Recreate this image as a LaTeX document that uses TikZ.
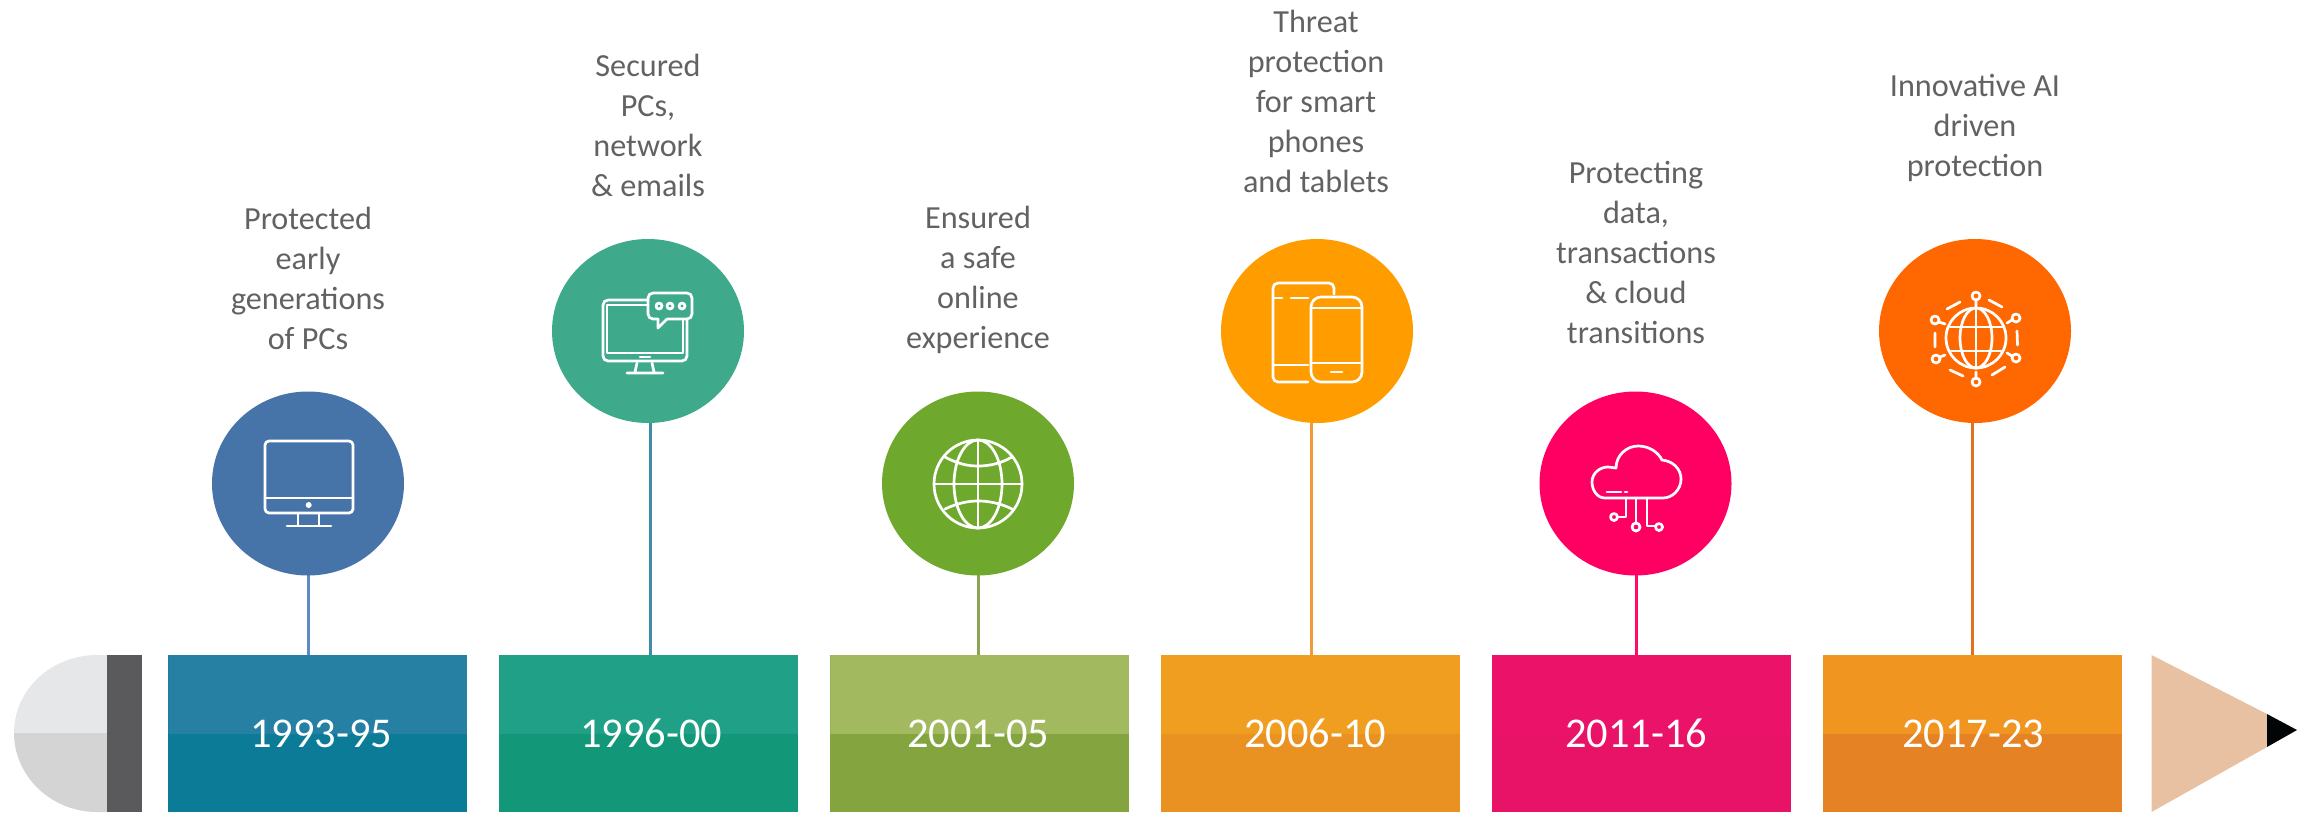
\documentclass[tikz,border=0pt]{standalone}
\usepackage{fontspec}
\setmainfont{Carlito}
\usetikzlibrary{shapes.geometric,backgrounds}
\definecolor{txt}{HTML}{626262}
\definecolor{eraserA}{HTML}{E6E7E9}
\definecolor{eraserB}{HTML}{D4D4D4}
\definecolor{band}{HTML}{5A5A5C}
\definecolor{wood}{HTML}{E7C1A1}
\definecolor{lead}{HTML}{020505}
\definecolor{discA}{HTML}{4674A8}
\definecolor{discB}{HTML}{3FA98C}
\definecolor{discC}{HTML}{6EA92E}
\definecolor{discD}{HTML}{FF9C00}
\definecolor{discE}{HTML}{FF0062}
\definecolor{discF}{HTML}{FF6800}
\definecolor{stemA}{HTML}{5B8BC4}
\definecolor{stemB}{HTML}{3F8CA6}
\definecolor{stemC}{HTML}{8CA555}
\definecolor{stemD}{HTML}{F09A3A}
\definecolor{stemE}{HTML}{FF0A6A}
\definecolor{stemF}{HTML}{DD7425}
\definecolor{topA}{HTML}{2580A4}
\definecolor{botA}{HTML}{0B7B98}
\definecolor{topB}{HTML}{20A086}
\definecolor{botB}{HTML}{129878}
\definecolor{topC}{HTML}{A2B95F}
\definecolor{botC}{HTML}{83A43F}
\definecolor{topD}{HTML}{EF9E20}
\definecolor{botD}{HTML}{E99222}
\definecolor{topE}{HTML}{EB1269}
\definecolor{botE}{HTML}{E81267}
\definecolor{topF}{HTML}{F09620}
\definecolor{botF}{HTML}{E58224}
\tikzset{
  disc/.style={ellipse,fill=#1,minimum width=96pt,minimum height=92pt,inner sep=0pt},
  yearbox/.style n args={2}{rectangle,fill=#2,minimum width=149.5pt,minimum height=78.5pt,inner sep=0pt,anchor=north west,
     path picture={\fill[#1] (path picture bounding box.north west) rectangle (path picture bounding box.east);}},
  yeartext/.style={anchor=base,text=white,inner sep=0pt,font=\fontsize{21.2}{24}\selectfont},
  caption/.style={anchor=base,align=center,text=txt,inner sep=0pt,font=\fontsize{16.1}{20}\selectfont},
  stem/.style={draw=#1,line width=1.5pt},
  icon/.style={draw=white,line width=1.35pt,line cap=round,line join=round},
}
\begin{document}
\begin{tikzpicture}[x=0.5pt,y=-0.5pt]
\useasboundingbox (0,0) rectangle (2306,814);
% pencil end
\fill[eraserA] (107,655) -- (97,655) .. controls (51,655) and (14,690) .. (14,733) -- (107,733) -- cycle;
\fill[eraserB] (14,733) .. controls (14,776) and (51,812) .. (97,812) -- (107,812) -- (107,733) -- cycle;
\fill[band] (107,655) rectangle (142,812);
% pencil tip
\fill[wood] (2151.5,655) -- (2267,714) -- (2267,747) -- (2151.5,812) -- cycle;
\fill[lead] (2267,714) -- (2297,730) -- (2267,747) -- cycle;
% year boxes
\node[yearbox={topA}{botA}] (r1) at (168,655) {};
\node[yearbox={topB}{botB}] (r2) at (499,655) {};
\node[yearbox={topC}{botC}] (r3) at (830,655) {};
\node[yearbox={topD}{botD}] (r4) at (1160.5,655) {};
\node[yearbox={topE}{botE}] (r5) at (1491.5,655) {};
\node[yearbox={topF}{botF}] (r6) at (1822.5,655) {};
\node[yeartext] (y1) at (321,747) {1993-95};
\node[yeartext] (y2) at (651,747) {1996-00};
\node[yeartext] (y3) at (978,747) {2001-05};
\node[yeartext] (y4) at (1315,747) {2006-10};
\node[yeartext] (y5) at (1636,747) {2011-16};
\node[yeartext] (y6) at (1973,747) {2017-23};
% discs
\node[disc=discA] (c1) at (308,483.5) {};
\node[disc=discB] (c2) at (648,331) {};
\node[disc=discC] (c3) at (978,483.5) {};
\node[disc=discD] (c4) at (1317,331) {};
\node[disc=discE] (c5) at (1635.5,483.5) {};
\node[disc=discF] (c6) at (1975,331) {};
% connectors
\coordinate (l1) at (308,655);
\coordinate (l2) at (650,655);
\coordinate (l3) at (978,655);
\coordinate (l4) at (1311,655);
\coordinate (l5) at (1636,655);
\coordinate (l6) at (1972,655);
\begin{scope}[on background layer]
\draw[stem=stemA] (c1.center -| l1) -- (l1);
\draw[stem=stemB] (c2.center -| l2) -- (l2);
\draw[stem=stemC] (c3.center -| l3) -- (l3);
\draw[stem=stemD] (c4.center -| l4) -- (l4);
\draw[stem=stemE] (c5.center -| l5) -- (l5);
\draw[stem=stemF] (c6.center -| l6) -- (l6);
\end{scope}
% captions (position = baseline of last line)
\node[caption] (t1) at (308,349) {Protected\\early\\generations\\of PCs};
\node[caption] (t2) at (648,196) {Secured\\PCs,\\network\\\& emails};
\node[caption] (t3) at (978,348) {Ensured\\a safe\\online\\experience};
\node[caption] (t4) at (1316,192) {Threat\\protection\\for smart\\phones\\and tablets};
\node[caption] (t5) at (1636,343) {Protecting\\data,\\transactions\\\& cloud\\transitions};
\node[caption] (t6) at (1975,176) {Innovative AI\\driven\\protection};
% icon 1: desktop monitor
\draw[icon,rounded corners=2pt] (265,441) rectangle (353,513);
\draw[icon] (265,498) -- (353,498);
\fill[white] (308.7,505) circle [radius=3];
\draw[icon] (298,513) -- (298,525) (319,513) -- (319,525) (287,526) -- (331,526);
% icon 2: monitor with speech bubble
\draw[icon,rounded corners=2.5pt] (648,300) -- (603,300) -- (603,361) -- (687,361) -- (687,320);
\draw[icon] (648,305) -- (607,305) -- (607,353) -- (683,353) -- (683,320);
\draw[icon] (640,357) -- (650,357);
\draw[icon] (637,363) -- (635,372) (652,363) -- (654,372) (627,373) -- (663,373);
\draw[icon,rounded corners=2.5pt] (658,319) -- (648,319) -- (648,293) -- (692,293) -- (692,319) -- (667,319);
\draw[icon] (667,319) -- (658,328) -- (658,319);
\draw[icon] (659,306) circle [radius=3] (670,306) circle [radius=3] (682,306) circle [radius=3];
% icon 3: globe
\draw[icon] (978,484) circle [radius=44];
\draw[icon] (978,484) ellipse [x radius=24,y radius=44];
\draw[icon] (978,440) -- (978,528) (934,484) -- (1022,484);
\draw[icon] (945,457) .. controls (958,464) and (968,466) .. (978,466) .. controls (988,466) and (1000,464) .. (1012,457);
\draw[icon] (945,509) .. controls (958,503) and (968,501) .. (978,501) .. controls (988,501) and (1000,503) .. (1012,509);
% icon 4: tablet and phone
\draw[icon,rounded corners=2.5pt] (1308,382) -- (1273,382) -- (1273,283) -- (1334,283) -- (1334,294);
\draw[icon] (1273,298) -- (1282,298) (1291,298) -- (1308,298) (1273,365) -- (1308,365);
\draw[icon,rounded corners=5pt] (1311,297) rectangle (1362,382);
\draw[icon] (1311,308) -- (1362,308) (1311,363) -- (1362,363) (1331,372) -- (1342,372);
% icon 5: cloud with circuit
\draw[icon] (1605,498) .. controls (1597,498) and (1592,490) .. (1592,482) .. controls (1592,473) and (1600,467) .. (1608,467) -- (1616,468) .. controls (1616,455) and (1627,446) .. (1638,446) .. controls (1649,446) and (1658,452) .. (1662,460) .. controls (1673,461) and (1681,469) .. (1681,479) .. controls (1681,490) and (1672,498) .. (1663,498) -- cycle;
\draw[icon] (1607,492) -- (1621,492) (1625,492) -- (1627,492);
\draw[icon] (1626,498) -- (1626,517) -- (1618,517) (1636,498) -- (1636,523) (1647,498) -- (1647,526) -- (1655,526);
\draw[icon] (1614,517) circle [radius=3.5] (1636,527) circle [radius=4] (1659,527) circle [radius=3.5];
% icon 6: networked globe
\draw[icon] (1976,338) circle [radius=30];
\draw[icon] (1976,338) ellipse [x radius=16,y radius=30];
\draw[icon] (1976,308) -- (1976,368) (1950,327) -- (2002,327) (1950,351) -- (2002,351);
\draw[icon] (1976,296) circle [radius=4] (1976,382) circle [radius=4] (1935,320) circle [radius=4] (2016,318) circle [radius=4] (1936,359) circle [radius=4] (2016,358) circle [radius=4];
\draw[icon] (1976,300) -- (1976,306) (1976,372) -- (1976,378) (1939,322) -- (1945,324) (2012,320) -- (2007,323) (1940,357) -- (1945,355) (2012,356) -- (2007,353);
\draw[icon] (1947,309) -- (1960,302) (1989,300) -- (2002,307) (1935,333) -- (1935,347) (2017,331) -- (2017.5,345) (1950,370) -- (1963,376) (1992,375) -- (2005,367);
\end{tikzpicture}
\end{document}
